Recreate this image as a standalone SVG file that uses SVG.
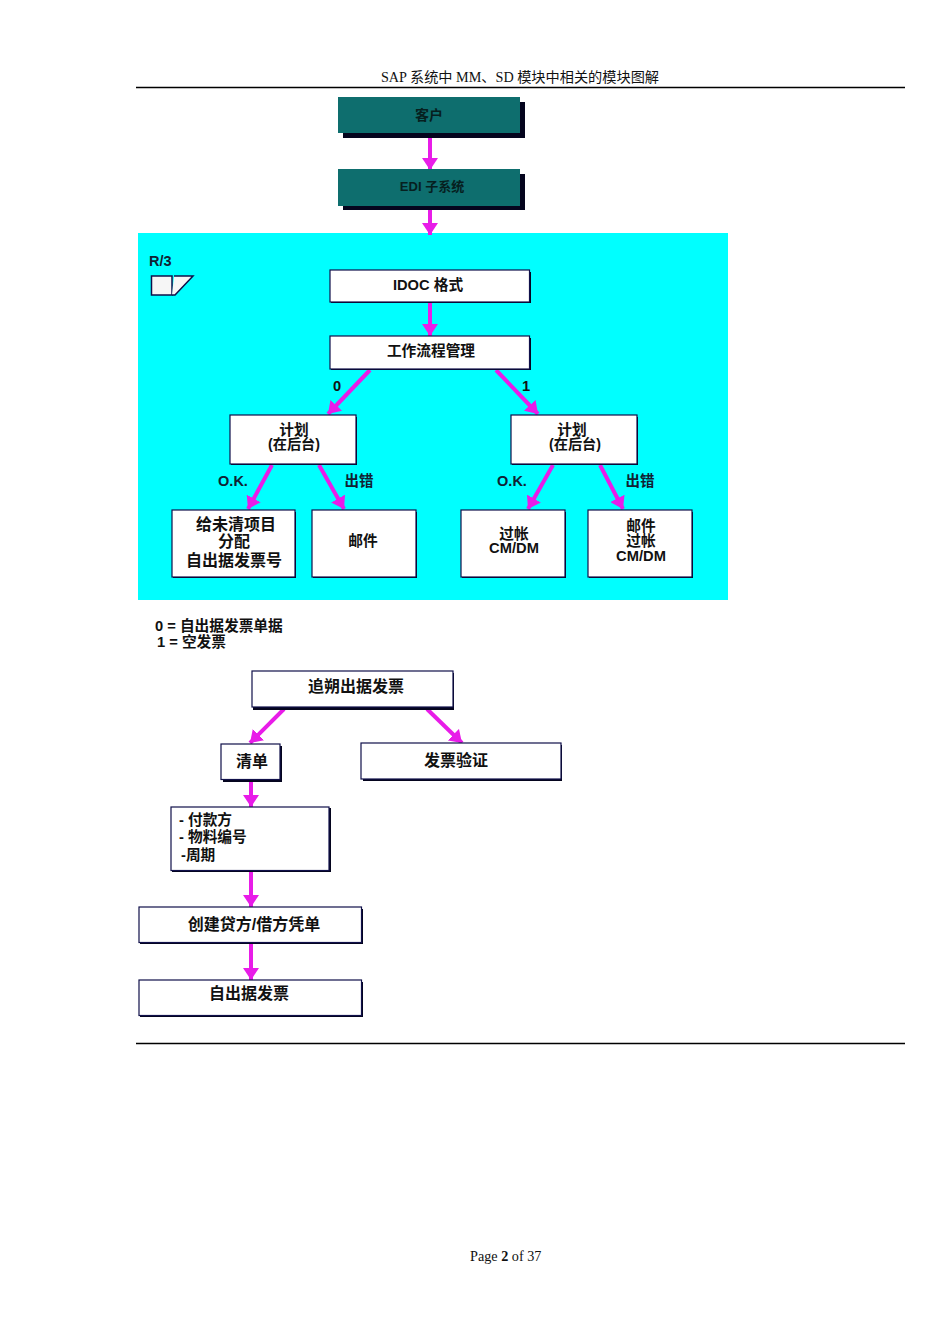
<svg xmlns="http://www.w3.org/2000/svg" width="950" height="1344" viewBox="0 0 950 1344">
<style>
text{font-family:"Liberation Sans","Noto Sans CJK SC",sans-serif;font-weight:700;fill:#111;text-anchor:middle}
.h{font-family:"Liberation Serif","Noto Sans CJK SC",serif;font-weight:400;font-size:14.2px}
.l{text-anchor:start}
.t{font-size:14px;fill:#06201f}
.t2{font-size:13px;fill:#06201f}
.b{font-size:16px}
.s{font-size:14.7px}
.p{font-size:14.2px}
.lbl{font-size:14.500px;fill:#123}
.teal{fill:#0e6e6e}
.shadow{fill:#05051e}
.box{fill:#fff;stroke:#10104a;stroke-width:1.2}
.conn line{stroke:#e81ce8;stroke-width:4;marker-end:url(#a)}
.rule{stroke:#000;stroke-width:1.5}
</style>
<defs>
<marker id="a" markerUnits="userSpaceOnUse" markerWidth="13" markerHeight="16" refX="12" refY="8" orient="auto">
<path d="M0 0L12 8L0 16Z" fill="#e81ce8"/>
</marker>
</defs>
<rect width="950" height="1344" fill="#fff"/>
<g id="header">
<text class="h" x="520" y="82">SAP 系统中 MM、SD 模块中相关的模块图解</text>
<line class="rule" x1="136" y1="87.5" x2="905" y2="87.5"/>
</g>
<g id="footer">
<line class="rule" x1="136" y1="1043.5" x2="905" y2="1043.5"/>
<text class="h l" x="470" y="1261">Page <tspan font-weight="700">2</tspan> of 37</text>
</g>
<rect id="r3-panel" x="138" y="233" width="590" height="367" fill="#00ffff"/>
<g id="r3-label">
<text class="lbl l" x="149" y="266">R/3</text>
<path d="M151.500 276H172V295H151.500Z" fill="#f6f6f6" stroke="#10104a" stroke-width="1.500"/>
<path d="M174 276H193L175 295H172" fill="#f6f6f6" stroke="#10104a" stroke-width="1.500"/>
</g>
<g class="conn" id="connectors">
<line x1="430" y1="133" x2="430" y2="170"/>
<line x1="430" y1="208" x2="430" y2="235"/>
<line x1="430" y1="303" x2="430" y2="336"/>
<line x1="370" y1="370" x2="328" y2="414"/>
<line x1="496" y1="370" x2="538" y2="414"/>
<line x1="272" y1="465" x2="248" y2="509"/>
<line x1="319" y1="465" x2="344" y2="509"/>
<line x1="553" y1="465" x2="528" y2="509"/>
<line x1="600" y1="465" x2="623" y2="509"/>
<line x1="284" y1="709" x2="250" y2="743"/>
<line x1="427" y1="709" x2="462" y2="743"/>
<line x1="251" y1="782" x2="251" y2="807"/>
<line x1="251" y1="871" x2="251" y2="907"/>
<line x1="251" y1="944" x2="251" y2="980"/>
</g>
<g id="n-customer"><rect class="shadow" x="343" y="102" width="182" height="36"/><rect class="teal" x="338" y="97" width="182" height="36"/><text class="t" x="429" y="120">客户</text></g>
<g id="n-edi"><rect class="shadow" x="343" y="174" width="182" height="36"/><rect class="teal" x="338" y="169" width="182" height="37"/><text class="t2" x="432" y="191">EDI 子系统</text></g>
<g id="n-idoc"><rect class="shadow" x="331" y="272" width="200" height="31"/><rect class="box" x="330" y="270" width="199.500" height="32"/><text class="s" x="428" y="290">IDOC 格式</text></g>
<g id="n-workflow"><rect class="shadow" x="331" y="338" width="200" height="32"/><rect class="box" x="330" y="336" width="199.500" height="33"/><text class="s" x="431" y="356">工作流程管理</text></g>
<g id="n-plan-l"><rect class="shadow" x="231" y="417" width="126" height="48"/><rect class="box" x="230" y="415" width="126" height="49"/><text class="s" x="294" y="435">计划</text><text class="p" x="294" y="449">(在后台)</text></g>
<g id="n-plan-r"><rect class="shadow" x="512" y="417" width="126" height="48"/><rect class="box" x="511" y="415" width="126" height="49"/><text class="s" x="572" y="435">计划</text><text class="p" x="575" y="449">(在后台)</text></g>
<g id="n-assign"><rect class="shadow" x="173" y="512" width="123" height="66"/><rect class="box" x="172" y="510" width="123" height="67"/><text class="b" x="236" y="530">给未清项目</text><text class="b" x="234" y="547">分配</text><text class="b" x="234" y="566">自出据发票号</text></g>
<g id="n-mail"><rect class="shadow" x="313" y="512" width="104" height="66"/><rect class="box" x="312" y="510" width="104" height="67"/><text class="s" x="363" y="546">邮件</text></g>
<g id="n-post"><rect class="shadow" x="462" y="512" width="104" height="66"/><rect class="box" x="461" y="510" width="104" height="67"/><text class="s" x="514" y="539">过帐</text><text class="s" x="514" y="553">CM/DM</text></g>
<g id="n-mail-post"><rect class="shadow" x="589" y="512" width="104" height="66"/><rect class="box" x="588" y="510" width="104" height="67"/><text class="s" x="641" y="531">邮件</text><text class="s" x="641" y="546">过帐</text><text class="s" x="641" y="561">CM/DM</text></g>
<g id="edge-labels">
<text class="s" x="337" y="391">0</text>
<text class="s" x="526" y="391">1</text>
<text class="lbl" x="233" y="486">O.K.</text>
<text class="lbl" x="359" y="486">出错</text>
<text class="lbl" x="512" y="486">O.K.</text>
<text class="lbl" x="640" y="486">出错</text>
</g>
<g id="legend">
<text class="s l" x="155" y="631">0 = 自出据发票单据</text>
<text class="s l" x="157" y="647">1 = 空发票</text>
</g>
<g id="n-retro"><rect class="shadow" x="253" y="673" width="201" height="37"/><rect class="box" x="252" y="671" width="201" height="36"/><text class="b" x="356" y="692">追朔出据发票</text></g>
<g id="n-list"><rect class="shadow" x="223" y="746" width="59" height="36"/><rect class="box" x="221" y="744" width="59" height="35.500"/><text class="b" x="252" y="767">清单</text></g>
<g id="n-verify"><rect class="shadow" x="363" y="745" width="199" height="36"/><rect class="box" x="361" y="743" width="200" height="36"/><text class="b" x="456" y="766">发票验证</text></g>
<g id="n-fields"><rect class="shadow" x="172" y="808" width="159" height="64"/><rect class="box" x="171" y="807" width="158" height="63.500"/>
<text class="s l" x="179" y="825">-  付款方</text><text class="s l" x="179" y="842">-  物料编号</text><text class="s l" x="181" y="860">-周期</text></g>
<g id="n-create"><rect class="shadow" x="140" y="909" width="223" height="35"/><rect class="box" x="139" y="907" width="222.500" height="35.500"/><text class="b" x="254" y="930">创建贷方/借方凭单</text></g>
<g id="n-self"><rect class="shadow" x="140" y="982" width="223" height="35"/><rect class="box" x="139" y="980" width="222.500" height="35.500"/><text class="b" x="249" y="999">自出据发票</text></g>
</svg>
